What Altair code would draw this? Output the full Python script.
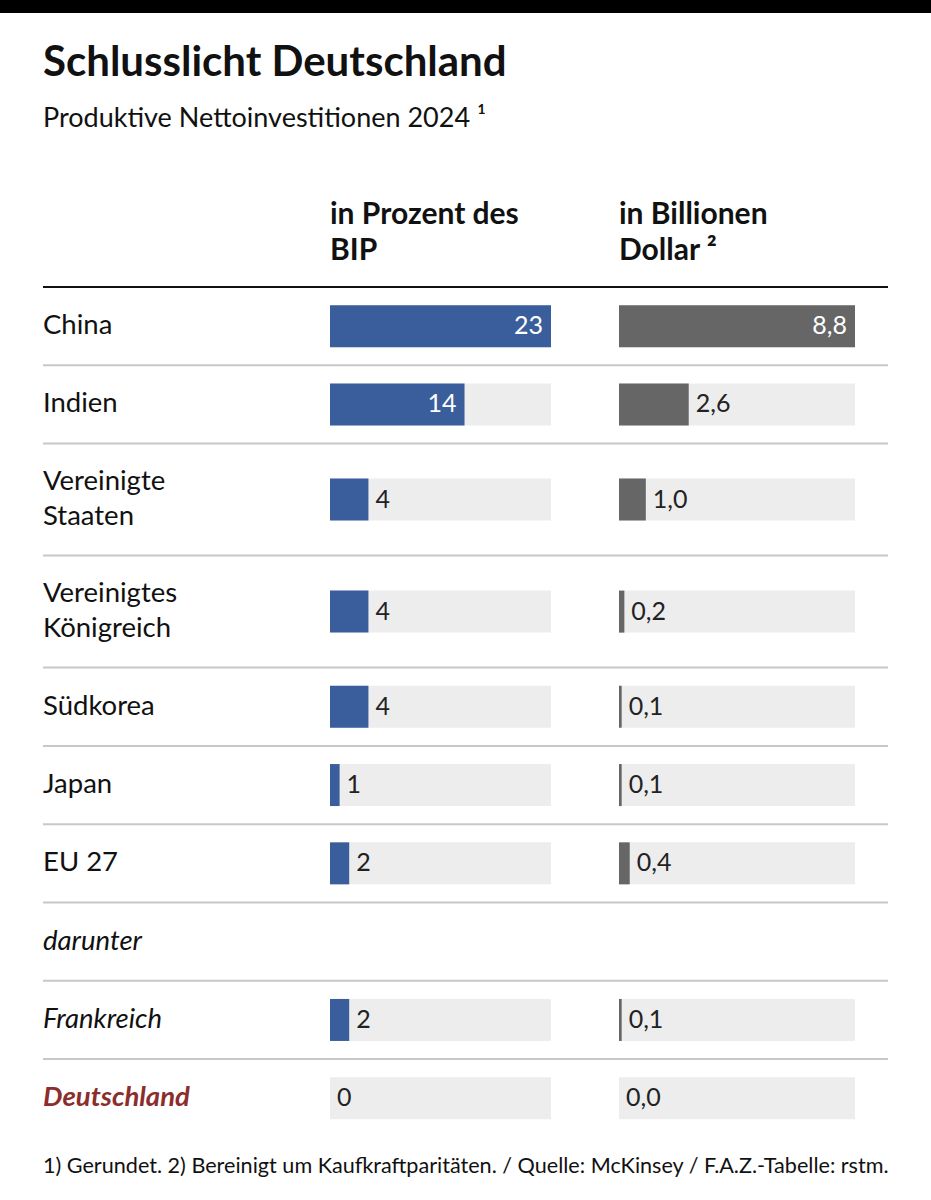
import altair as alt
import pandas as pd

# ---- data ----
countries = ["China", "Indien", "Vereinigte Staaten", "Vereinigtes Königreich",
             "Südkorea", "Japan", "EU 27", "darunter", "Frankreich", "Deutschland"]
label_lines = [["China"], ["Indien"], ["Vereinigte", "Staaten"], ["Vereinigtes", "Königreich"],
               ["Südkorea"], ["Japan"], ["EU 27"], ["darunter"], ["Frankreich"], ["Deutschland"]]
pct_gdp = [23, 14, 4, 4, 4, 1, 2, None, 2, 0]
usd_trn = [8.8, 2.6, 1.0, 0.2, 0.1, 0.1, 0.4, None, 0.1, 0.0]
label_style = ["normal", "normal", "normal", "normal", "normal", "normal", "normal",
               "italic", "italic", "highlight"]

title = "Schlusslicht Deutschland"
subtitle = "Produktive Nettoinvestitionen 2024 \u00b9"
head1 = ["in Prozent des", "BIP"]
head2 = ["in Billionen", "Dollar \u00b2"]
footer = "1) Gerundet. 2) Bereinigt um Kaufkraftparitäten. / Quelle: McKinsey / F.A.Z.-Tabelle: rstm."

# ---- layout (pixels) ----
W, H = 931, 1200
FONT = "Lato"
TOP = 287
ROW1, ROW2 = 78.3, 112
LH = 35
BLUE, GREY, BG, RED = "#3a5e9b", "#666666", "#ededed", "#8c2d2d"

heights = [ROW2 if len(l) > 1 else ROW1 for l in label_lines]
starts, ends, y = [], [], TOP
for h in heights:
    starts.append(y)
    y += h
    ends.append(y)

df = pd.DataFrame({
    "country": countries,
    "lines": label_lines,
    "nlines": [len(l) for l in label_lines],
    "pct": pct_gdp,
    "usd": usd_trn,
    "style": label_style,
    "yc": [(s + e) / 2 for s, e in zip(starts, ends)],
    "yend": ends,
})
df["pct_lab"] = df["pct"].map(lambda v: "" if pd.isna(v) else f"{int(v)}")
df["usd_lab"] = df["usd"].map(lambda v: "" if pd.isna(v) else f"{v:.1f}".replace(".", ","))
df["pct_in"] = df["pct"] / max(v for v in pct_gdp if v is not None) > 0.5
df["usd_in"] = df["usd"] / max(v for v in usd_trn if v is not None) > 0.5
df["pct_max"] = max(v for v in pct_gdp if v is not None)
df["usd_max"] = max(v for v in usd_trn if v is not None)

vals = df[df["pct"].notna()]
yscale = alt.Scale(domain=[0, H], range=[0, H], nice=False, zero=False, padding=0)
Y = alt.Y("yc:Q", scale=yscale, axis=None)
xp = alt.Scale(domain=[0, 23], range=[330, 551], nice=False, padding=0)
xu = alt.Scale(domain=[0, 8.8], range=[619, 855], nice=False, padding=0)

base = alt.Chart(vals)

bg1 = base.mark_bar(size=42, color=BG, orient="horizontal").encode(
    x=alt.X("pct_max:Q", scale=xp, axis=None), y=Y)
bar1 = base.mark_bar(size=42, color=BLUE, orient="horizontal").encode(
    x=alt.X("pct:Q", scale=xp, axis=None), y=Y)
bg2 = base.mark_bar(size=42, color=BG, orient="horizontal").encode(
    x=alt.X("usd_max:Q", scale=xu, axis=None), y=Y)
bar2 = base.mark_bar(size=42, color=GREY, orient="horizontal").encode(
    x=alt.X("usd:Q", scale=xu, axis=None), y=Y)

def vlabel(field, lab, flag, scale, inside):
    src = base.transform_filter(alt.datum[flag] if inside else ~alt.datum[flag])
    return src.mark_text(
        font=FONT, fontSize=25, baseline="middle",
        align="right" if inside else "left",
        dx=-8 if inside else 7,
        color="white" if inside else "#222222",
    ).encode(x=alt.X(f"{field}:Q", scale=scale, axis=None), y=Y, text=f"{lab}:N")

lab1i = vlabel("pct", "pct_lab", "pct_in", xp, True)
lab1o = vlabel("pct", "pct_lab", "pct_in", xp, False)
lab2i = vlabel("usd", "usd_lab", "usd_in", xu, True)
lab2o = vlabel("usd", "usd_lab", "usd_in", xu, False)

rows = alt.Chart(df)
NSIZE = 27.5
names_1 = rows.transform_filter((alt.datum.style == "normal") & (alt.datum.nlines == 1)).mark_text(
    font=FONT, fontSize=NSIZE, align="left", baseline="middle", lineHeight=LH, color="#111111"
).encode(x=alt.value(43), y=Y, text="lines")
names_2 = rows.transform_filter((alt.datum.style == "normal") & (alt.datum.nlines == 2)).mark_text(
    font=FONT, fontSize=NSIZE, align="left", baseline="middle", lineHeight=LH, dy=-LH / 2,
    color="#111111"
).encode(x=alt.value(43), y=Y, text="lines")
names_i = rows.transform_filter(alt.datum.style == "italic").mark_text(
    font=FONT, fontSize=NSIZE, fontStyle="italic", align="left", baseline="middle", color="#111111"
).encode(x=alt.value(43), y=Y, text="lines")
names_h = rows.transform_filter(alt.datum.style == "highlight").mark_text(
    font=FONT, fontSize=NSIZE, fontStyle="italic", fontWeight="bold", align="left",
    baseline="middle", color=RED
).encode(x=alt.value(43), y=Y, text="lines")

seps = rows.transform_filter(alt.datum.country != countries[-1]).mark_rule(
    color="#c8c8c8", strokeWidth=2
).encode(x=alt.value(43), x2=alt.value(888), y=alt.Y("yend:Q", scale=yscale, axis=None))

header_rule = alt.Chart(pd.DataFrame({"yend": [TOP]})).mark_rule(
    color="#111111", strokeWidth=2
).encode(x=alt.value(43), x2=alt.value(888), y=alt.Y("yend:Q", scale=yscale, axis=None))

topbar = alt.Chart(pd.DataFrame({"a": [0]})).mark_rect(color="#000000").encode(
    x=alt.value(0), x2=alt.value(W), y=alt.value(0), y2=alt.value(13))

def textlayer(txt, x, yv, size, weight="normal", baseline="alphabetic", lh=None, color="#111111"):
    kw = dict(font=FONT, fontSize=size, fontWeight=weight, align="left",
              baseline=baseline, color=color)
    if lh:
        kw["lineHeight"] = lh
    return alt.Chart(pd.DataFrame({"t": [txt]})).mark_text(**kw).encode(
        x=alt.value(x), y=alt.value(yv), text="t")

t_title = textlayer(title, 43, 76, 42, weight="bold")
t_sub = textlayer(subtitle, 43, 127, 27)
t_h1 = textlayer(head1, 330, 215, 30, weight="bold", baseline="middle", lh=36)
t_h2 = textlayer(head2, 619, 215, 30, weight="bold", baseline="middle", lh=36)
t_foot = textlayer(footer, 43, 1173, 21.6)

chart = alt.layer(
    topbar, t_title, t_sub, t_h1, t_h2, header_rule, seps,
    bg1, bar1, bg2, bar2, lab1i, lab1o, lab2i, lab2o,
    names_1, names_2, names_i, names_h, t_foot,
).resolve_scale(x="independent").properties(
    width=W, height=H, autosize=alt.AutoSizeParams(type="none"),
    padding={"left": 0, "right": 0, "top": 0, "bottom": 0},
    background="white",
).configure_view(stroke=None)

chart.save("out.html", embed_options={"renderer": "svg", "actions": False})
